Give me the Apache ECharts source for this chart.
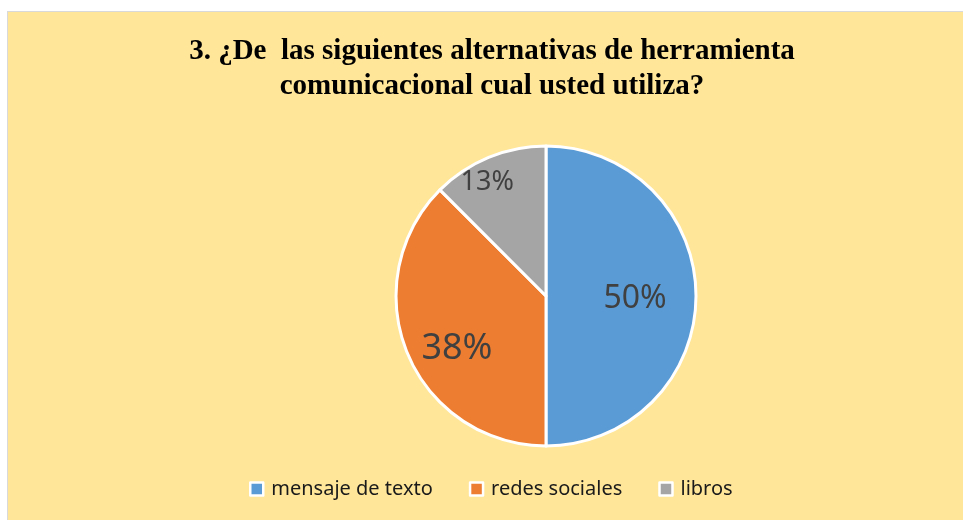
<!DOCTYPE html>
<html>
<head>
<meta charset="utf-8">
<script src="https://cdn.jsdelivr.net/npm/echarts@6/dist/echarts.min.js"></script>
<style>
    html, body { margin: 0; padding: 0; background: #fff; }
    #box {
        position: absolute; left: 7px; top: 11px; width: 960px; height: 515px;
        background: #FFE699; border: 1px solid #D9D9D9;
    }
    #chart { position: absolute; left: 0; top: 0; width: 963px; height: 520px; }
</style>
</head>
<body>
<div id="box"></div>
<div id="chart"></div>
<script>
    // herramienta comunicacional (porcentaje)
    var categories = ['mensaje de texto', 'redes sociales', 'libros'];
    var values = [50, 37.5, 12.5];
    var colors = ['#5B9BD5', '#ED7D31', '#A5A5A5'];

    // tamaño de letra de cada etiqueta y ajuste de posicion
    var labelSizes = [32, 36, 27];
    var labelShift = [[11, 3], [-17, 23], [-29, -42]];

    var chart = echarts.init(document.getElementById('chart'));

    var option = {
        backgroundColor: 'transparent',
        title: {
            text: '3. ¿De  las siguientes alternativas de herramienta\ncomunicacional cual usted utiliza?',
            left: 487,
            top: 29,
            textAlign: 'center',
            textStyle: {
                fontFamily: 'Liberation Serif',
                fontWeight: 'bold',
                fontSize: 29,
                lineHeight: 35,
                color: '#000'
            }
        },
        legend: {
            bottom: 16,
            left: 244,
            icon: 'rect',
            itemWidth: 13,
            itemHeight: 13,
            itemGap: 36,
            textStyle: {fontFamily: 'Noto Sans', fontSize: 20, color: '#1a1a1a', padding: [0, 0, 0, 3]},
            itemStyle: {borderColor: '#fff', borderWidth: 2.5},
            data: categories
        },
        series: [{
            type: 'pie',
            center: [546, 296],
            radius: 150,
            startAngle: 90,
            clockwise: true,
            animation: false,
            itemStyle: {borderColor: '#fff', borderWidth: 3},
            label: {
                show: true,
                position: 'inside',
                fontFamily: 'Noto Sans',
                color: '#404040',
                formatter: function (p) {
                    return Math.round(p.value) + '%';
                }
            },
            labelLayout: function (p) {
                var s = labelShift[p.dataIndex];
                return {dx: s[0], dy: s[1]};
            },
            emphasis: {disabled: true},
            data: categories.map(function (c, i) {
                return {
                    name: c,
                    value: values[i],
                    itemStyle: {color: colors[i]},
                    label: {fontSize: labelSizes[i]}
                };
            })
        }]
    };

    chart.setOption(option);
</script>
</body>
</html>
